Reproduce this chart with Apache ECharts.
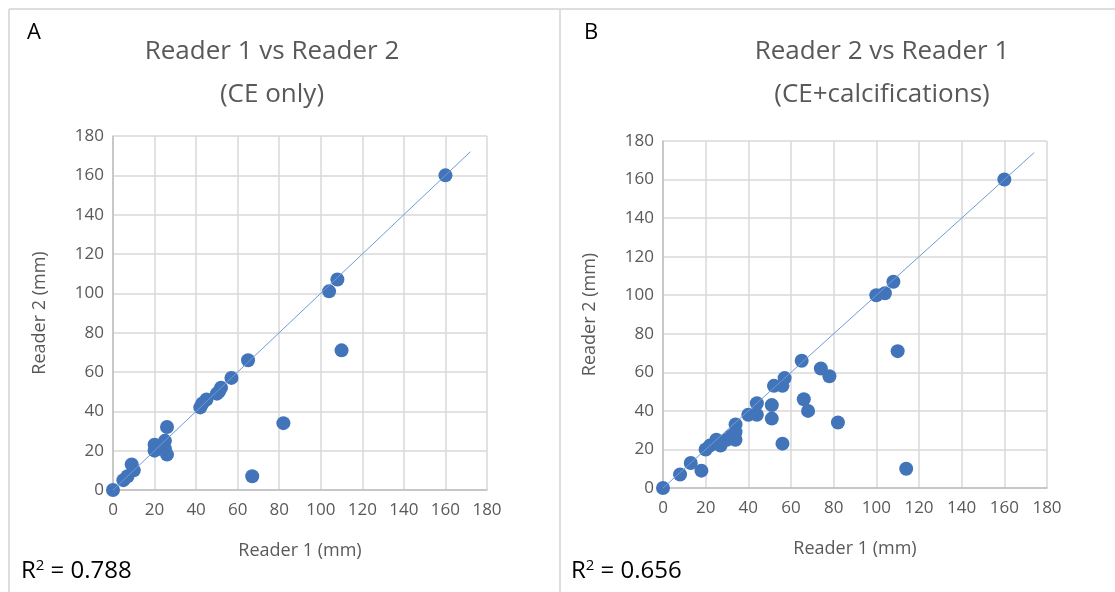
<!DOCTYPE html>
<html lang="en">
<head>
    <meta charset="UTF-8">
    <title>Reader agreement</title>
    <script src="https://cdn.jsdelivr.net/npm/echarts@6/dist/echarts.min.js"></script>
    <style>
        html, body { margin: 0; padding: 0; background: #ffffff; }
        #chart { width: 1115px; height: 592px; }
    </style>
</head>
<body>
    <div id="chart"></div>
    <script>
        // panel A: CE only
        var aX = [0, 5, 7, 9, 10, 20, 20, 22, 24, 25, 25, 26, 26, 42, 43, 45, 50, 51, 52, 57, 65, 67, 82, 104, 108, 110, 160];
        var aY = [0, 5, 7, 13, 10, 23, 20, 21, 22, 25, 21, 18, 32, 42, 44, 46, 49, 50, 52, 57, 66, 7, 34, 101, 107, 71, 160];

        // panel B: CE + calcifications
        var bX = [0, 8, 13, 18, 20, 22, 25, 27, 30, 32, 34, 34, 34, 40, 44, 44, 51, 51, 52, 56, 56, 57, 65, 66, 68, 74, 78, 82, 100, 104, 108, 110, 114, 160];
        var bY = [0, 7, 13, 9, 20, 22, 25, 22, 25, 27, 33, 29, 25, 38, 38, 44, 43, 36, 53, 53, 23, 57, 66, 46, 40, 62, 58, 34, 100, 101, 107, 71, 10, 160];

        // trend lines (ends)
        var trendA = [0, 172];
        var trendB = [0, 174];

        var axisMin = 0, axisMax = 180, axisStep = 20;
        var r2A = '0.788', r2B = '0.656';

        function pairs(xs, ys) {
            return xs.map(function (x, i) { return [x, ys[i]]; });
        }

        var grey = '#595959';
        var font = 'Open Sans';

        function makeAxis(idx, name, isX) {
            return {
                type: 'value',
                gridIndex: idx,
                min: axisMin,
                max: axisMax,
                interval: axisStep,
                axisLine: { show: true, lineStyle: { color: '#bfbfbf', width: 1.5 } },
                axisTick: { show: false },
                splitLine: { show: true, lineStyle: { color: '#d9d9d9', width: 1.5 } },
                axisLabel: { color: grey, fontSize: 17, fontFamily: font, margin: isX ? 12 : 9 },
                name: name,
                nameLocation: 'middle',
                nameGap: isX ? 52 : 64,
                nameTextStyle: { color: grey, fontSize: 18, fontFamily: font }
            };
        }

        var chart = echarts.init(document.getElementById('chart'));

        chart.setOption({
            animation: false,
            title: [
                {
                    text: 'Reader 1 vs Reader 2\n(CE only)',
                    left: 267, top: 25, textAlign: 'center',
                    textStyle: { color: grey, fontSize: 26, fontWeight: 'normal', fontFamily: font, lineHeight: 43 }
                },
                {
                    text: 'Reader 2 vs Reader 1\n(CE+calcifications)',
                    left: 877, top: 25, textAlign: 'center',
                    textStyle: { color: grey, fontSize: 26, fontWeight: 'normal', fontFamily: font, lineHeight: 43 }
                }
            ],
            grid: [
                { left: 113, top: 136, width: 374, height: 354 },
                { left: 663, top: 141, width: 384, height: 347 }
            ],
            xAxis: [makeAxis(0, 'Reader 1 (mm)', true), makeAxis(1, 'Reader 1 (mm)', true)],
            yAxis: [makeAxis(0, 'Reader 2 (mm)', false), makeAxis(1, 'Reader 2 (mm)', false)],
            series: [
                {
                    type: 'line', xAxisIndex: 0, yAxisIndex: 0,
                    data: pairs(trendA, trendA), symbol: 'none', silent: true,
                    lineStyle: { color: '#6f9ad8', width: 1 }
                },
                {
                    type: 'line', xAxisIndex: 1, yAxisIndex: 1,
                    data: pairs(trendB, trendB), symbol: 'none', silent: true,
                    lineStyle: { color: '#6f9ad8', width: 1 }
                },
                {
                    type: 'scatter', xAxisIndex: 0, yAxisIndex: 0,
                    data: pairs(aX, aY), symbolSize: 14,
                    itemStyle: { color: '#4274ba', opacity: 1 }
                },
                {
                    type: 'scatter', xAxisIndex: 1, yAxisIndex: 1,
                    data: pairs(bX, bY), symbolSize: 14,
                    itemStyle: { color: '#4274ba', opacity: 1 }
                }
            ],
            graphic: [
                // panel frames
                { type: 'line', shape: { x1: 9, y1: 9, x2: 1115, y2: 9 }, style: { stroke: '#dddddd', lineWidth: 2 } },
                { type: 'line', shape: { x1: 9, y1: 9, x2: 9, y2: 592 }, style: { stroke: '#dddddd', lineWidth: 2 } },
                { type: 'line', shape: { x1: 560, y1: 9, x2: 560, y2: 592 }, style: { stroke: '#dddddd', lineWidth: 2 } },
                // panel letters
                { type: 'text', left: 27, top: 22, style: { text: 'A', fill: '#000', font: '22px "Open Sans"' } },
                { type: 'text', left: 584, top: 22, style: { text: 'B', fill: '#000', font: '22px "Open Sans"' } },
                // R squared
                {
                    type: 'text', left: 21, top: 558,
                    style: {
                        text: '{b|R}{s|2}{b| = ' + r2A + '}',
                        rich: {
                            b: { fontSize: 24, fontFamily: font, fill: '#000', verticalAlign: 'bottom' },
                            s: { fontSize: 15, fontFamily: font, fill: '#000', verticalAlign: 'top', padding: [0, 0, 10, 0] }
                        }
                    }
                },
                {
                    type: 'text', left: 571, top: 558,
                    style: {
                        text: '{b|R}{s|2}{b| = ' + r2B + '}',
                        rich: {
                            b: { fontSize: 24, fontFamily: font, fill: '#000', verticalAlign: 'bottom' },
                            s: { fontSize: 15, fontFamily: font, fill: '#000', verticalAlign: 'top', padding: [0, 0, 10, 0] }
                        }
                    }
                }
            ]
        });
    </script>
</body>
</html>
